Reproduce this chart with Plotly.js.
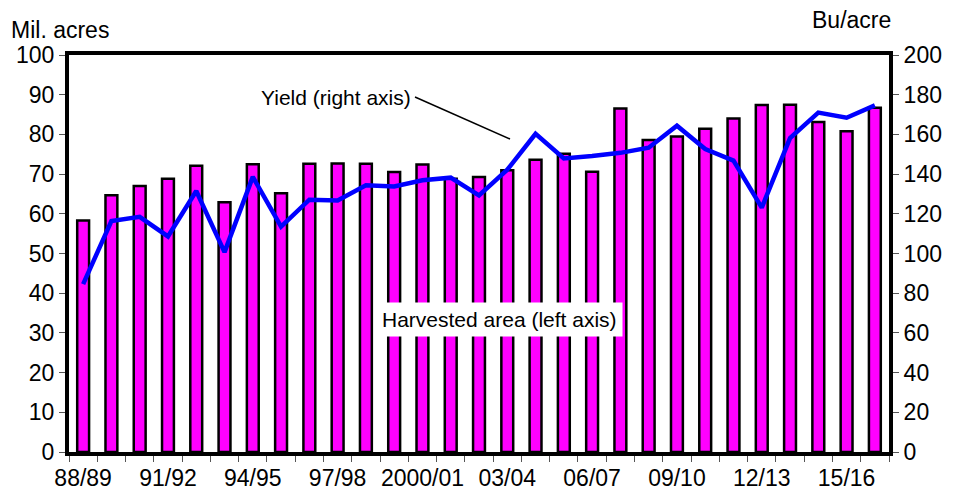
<!DOCTYPE html>
<html>
<head>
<meta charset="utf-8">
<script src="https://cdn.plot.ly/plotly-3.0.1.min.js"></script>
<style>html,body{margin:0;padding:0;background:#fff;}#chart{width:953px;height:493px;}</style>
</head>
<body>
<div id="chart"></div>
<script>
const seasons = ["88/89","89/90","90/91","91/92","92/93","93/94","94/95","95/96","96/97","97/98","98/99","99/2000","2000/01","01/02","02/03","03/04","04/05","05/06","06/07","07/08","08/09","09/10","10/11","11/12","12/13","13/14","14/15","15/16","16/17"];
const harvestedArea = [58.3,64.7,67.0,68.8,72.1,62.9,72.5,65.2,72.6,72.7,72.6,70.5,72.4,68.8,69.3,71.0,73.6,75.1,70.6,86.5,78.6,79.5,81.4,84.0,87.4,87.5,83.1,80.8,86.7];
const yieldBu = [84.6,116.3,118.5,108.6,131.5,100.7,138.6,113.5,127.1,126.7,134.4,133.8,136.9,138.2,129.3,142.2,160.3,147.9,149.1,150.7,153.3,164.4,152.6,146.8,123.1,158.1,171.0,168.4,174.6];
const shownLabels = ["88/89","91/92","94/95","97/98","2000/01","03/04","06/07","09/10","12/13","15/16"];

const FONT = "Liberation Sans, Arial, sans-serif";
const tickText = seasons.map(s => shownLabels.includes(s) ? s : "");

const data = [
  {
    type: "bar", x: seasons, y: harvestedArea, yaxis: "y",
    width: 0.42,
    marker: {color: "#FF00FF", line: {color: "#000000", width: 2.5}},
    hoverinfo: "x+y"
  },
  {
    type: "scatter", mode: "lines", x: seasons, y: yieldBu, yaxis: "y2",
    line: {color: "#0000FF", width: 4.5}
  }
];

const layout = {
  width: 953, height: 493,
  margin: {l: 69, r: 64, t: 55, b: 41},
  paper_bgcolor: "#ffffff", plot_bgcolor: "#ffffff",
  showlegend: false,
  font: {family: FONT, size: 23, color: "#000"},
  xaxis: {
    type: "category",
    tickmode: "array", tickvals: seasons, ticktext: tickText,
    tickson: "boundaries",
    ticks: "outside", ticklen: 6, tickwidth: 1, tickcolor: "#555",
    showline: true, linecolor: "#000", linewidth: 4, mirror: true,
    showgrid: false, zeroline: false,
    tickfont: {family: FONT, size: 23, color: "#000"},
    tickangle: 0, ticklabelstandoff: 2
  },
  yaxis: {
    range: [0, 100], dtick: 10,
    ticks: "outside", ticklen: 6, tickwidth: 1, tickcolor: "#555",
    showline: true, linecolor: "#000", linewidth: 4,
    showgrid: false, zeroline: false,
    tickfont: {family: FONT, size: 23, color: "#000"}
  },
  yaxis2: {
    range: [0, 200], dtick: 20, overlaying: "y", side: "right",
    ticks: "outside", ticklen: 6, tickwidth: 1, tickcolor: "#555",
    showline: true, linecolor: "#000", linewidth: 4,
    showgrid: false, zeroline: false,
    tickfont: {family: FONT, size: 23, color: "#000"}
  },
  shapes: [
    {type: "line", xref: "paper", yref: "paper",
     x0: (415-69)/820, y0: (452-97)/397, x1: (510-69)/820, y1: (452-139)/397,
     line: {color: "#000", width: 1.5}}
  ],
  annotations: [
    {text: "Mil. acres", xref: "paper", yref: "paper", x: (9-69)/820, y: (452-30)/397,
     xanchor: "left", yanchor: "middle", showarrow: false, font: {family: FONT, size: 23, color: "#000"}},
    {text: "Bu/acre", xref: "paper", yref: "paper", x: (893-69)/820, y: (452-20)/397,
     xanchor: "right", yanchor: "middle", showarrow: false, font: {family: FONT, size: 23, color: "#000"}},
    {text: "Yield (right axis)", xref: "paper", yref: "paper", x: (413-69)/820, y: (452-97)/397,
     xanchor: "right", yanchor: "middle", showarrow: false, font: {family: FONT, size: 21, color: "#000"}},
    {text: "Harvested area (left axis)", xref: "paper", yref: "paper", x: (499.5-69)/820, y: (452-319.5)/397,
     xanchor: "center", yanchor: "middle", showarrow: false, bgcolor: "#ffffff", borderpad: 5,
     font: {family: FONT, size: 21, color: "#000"}}
  ]
};

Plotly.newPlot("chart", data, layout, {displayModeBar: false, staticPlot: true});
</script>
</body>
</html>
